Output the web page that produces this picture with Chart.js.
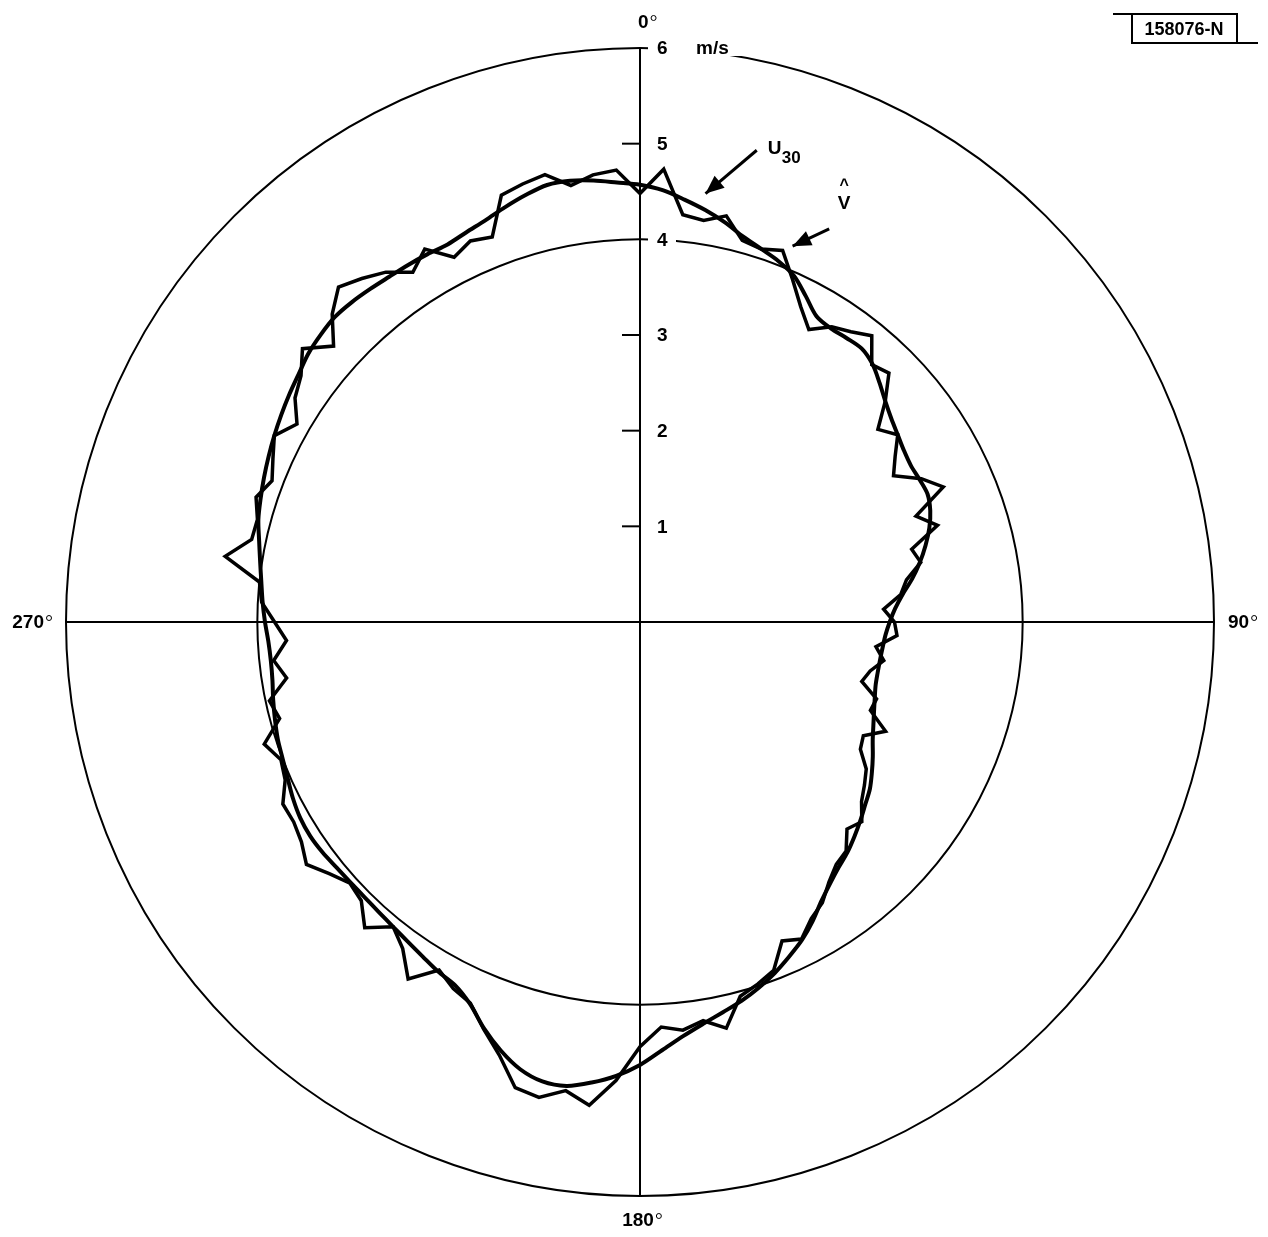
<!DOCTYPE html>
<html>
<head>
<meta charset="utf-8">
<title>U30 and V polar plot</title>
<script src="https://cdn.jsdelivr.net/npm/chart.js@4.4.1/dist/chart.umd.min.js"></script>
<style>
  html, body { margin: 0; padding: 0; background: #fff; }
</style>
</head>
<body>
<canvas id="polarChart" width="1268" height="1237"></canvas>
<script>
// direction in degrees, clockwise from north, every 3 degrees
const angles = Array.from({ length: 120 }, (_, i) => i * 3);

// speeds in m/s
const u30 = [
  4.57, 4.52, 4.44, 4.36, 4.27, 4.17, 4.10, 4.04, 3.96, 3.82,
  3.69, 3.66, 3.67, 3.68, 3.63, 3.54, 3.45, 3.38, 3.33, 3.29,
  3.27, 3.28, 3.29, 3.25, 3.18, 3.09, 2.99, 2.88, 2.76, 2.67,
  2.61, 2.57, 2.55, 2.54, 2.54, 2.55, 2.58, 2.62, 2.67, 2.73,
  2.81, 2.89, 2.97, 3.03, 3.10, 3.17, 3.24, 3.30, 3.38, 3.48,
  3.61, 3.73, 3.83, 3.93, 4.02, 4.10, 4.17, 4.25, 4.35, 4.48,
  4.63, 4.75, 4.84, 4.91, 4.91, 4.84, 4.71, 4.55, 4.37, 4.26,
  4.22, 4.17, 4.13, 4.10, 4.08, 4.07, 4.07, 4.08, 4.10, 4.11,
  4.10, 4.07, 4.03, 4.00, 3.98, 3.95, 3.92, 3.89, 3.88, 3.89,
  3.92, 3.95, 3.98, 4.02, 4.07, 4.13, 4.17, 4.21, 4.25, 4.29,
  4.33, 4.37, 4.41, 4.46, 4.49, 4.51, 4.50, 4.48, 4.46, 4.45,
  4.44, 4.43, 4.46, 4.50, 4.56, 4.62, 4.67, 4.67, 4.64, 4.60
];

const vHat = [
  4.48, 4.74, 4.28, 4.25, 4.34, 4.13, 4.10, 4.16, 3.92, 3.70,
  3.53, 3.68, 3.75, 3.85, 3.62, 3.68, 3.45, 3.20, 3.33, 3.18,
  3.06, 3.30, 3.47, 3.09, 3.27, 2.94, 3.00, 2.82, 2.74, 2.55,
  2.66, 2.69, 2.48, 2.58, 2.46, 2.40, 2.60, 2.58, 2.81, 2.62,
  2.66, 2.82, 2.90, 2.98, 3.12, 3.06, 3.22, 3.26, 3.36, 3.50,
  3.58, 3.72, 3.65, 3.90, 3.98, 4.05, 4.34, 4.22, 4.29, 4.24,
  4.44, 4.80, 5.08, 4.96, 5.08, 5.04, 4.76, 4.56, 4.36, 4.30,
  4.20, 4.45, 4.22, 4.10, 4.30, 4.12, 4.08, 4.18, 4.31, 4.22,
  4.18, 4.19, 4.06, 4.02, 4.13, 3.90, 3.96, 3.74, 3.85, 3.70,
  3.82, 3.96, 4.00, 4.39, 4.15, 4.14, 4.22, 4.12, 4.20, 4.29,
  4.14, 4.30, 4.38, 4.54, 4.31, 4.55, 4.71, 4.62, 4.52, 4.36,
  4.50, 4.28, 4.36, 4.31, 4.69, 4.74, 4.78, 4.62, 4.70, 4.73
];

const tickValues = [1, 2, 3, 4, 5, 6];
const tickLabels = ['1', '2', '3', '4', '5', '6'];
const cardinalAngles = [0, 90, 180, 270];
const cardinalLabels = ['0', '90', '180', '270'];

const FONT = 'bold 19px "Liberation Sans", Arial, sans-serif';

// axis numbers, compass labels, arrows and the figure number
const annotate = {
  id: 'annotate',
  afterDraw(chart) {
    const ctx = chart.ctx;
    const r = chart.scales.r;
    const cx = r.xCenter, cy = r.yCenter;
    const pt = (deg, v) => {
      const d = r.getDistanceFromCenterForValue(v);
      const a = deg * Math.PI / 180;
      return { x: cx + d * Math.sin(a), y: cy - d * Math.cos(a) };
    };
    ctx.save();
    ctx.fillStyle = '#000';
    ctx.strokeStyle = '#000';

    // ticks on the north axis
    ctx.font = FONT;
    ctx.textBaseline = 'middle';
    ctx.textAlign = 'left';
    tickValues.forEach((v, i) => {
      const y = cy - r.getDistanceFromCenterForValue(v);
      if (v === 4 || v === 6) {
        ctx.fillStyle = '#fff';
        const w = v === 6 ? 104 : 28;
        ctx.fillRect(cx + 8, y - 8, w, 16);
        ctx.fillStyle = '#000';
      } else {
        ctx.lineWidth = 2;
        ctx.beginPath();
        ctx.moveTo(cx - 18, y);
        ctx.lineTo(cx, y);
        ctx.stroke();
      }
      ctx.fillText(tickLabels[i], cx + 17, y + 1);
      if (v === 6) ctx.fillText('m/s', cx + 56, y + 1);
    });

    // compass labels with a small degree ring
    const outer = r.drawingArea;
    cardinalAngles.forEach((deg, i) => {
      const txt = cardinalLabels[i];
      ctx.font = FONT;
      const w = ctx.measureText(txt).width;
      let x, y;
      if (deg === 0) { x = cx - 2; y = cy - outer - 25; }
      else if (deg === 90) { x = cx + outer + 14; y = cy + 1; }
      else if (deg === 180) { x = cx - w / 2 - 2; y = cy + outer + 25; }
      else { x = cx - outer - w - 22; y = cy + 1; }
      ctx.textAlign = 'left';
      ctx.fillText(txt, x, y);
      ctx.lineWidth = 1;
      ctx.beginPath();
      ctx.arc(x + w + 5, y - 5, 2.5, 0, Math.PI * 2);
      ctx.stroke();
    });

    // arrows
    const arrow = (from, to) => {
      ctx.lineWidth = 3;
      ctx.beginPath();
      ctx.moveTo(from.x, from.y);
      ctx.lineTo(to.x, to.y);
      ctx.stroke();
      const a = Math.atan2(to.y - from.y, to.x - from.x);
      const L = 20, s = 0.4;
      ctx.beginPath();
      ctx.moveTo(to.x, to.y);
      ctx.lineTo(to.x - L * Math.cos(a - s), to.y - L * Math.sin(a - s));
      ctx.lineTo(to.x - L * Math.cos(a + s), to.y - L * Math.sin(a + s));
      ctx.closePath();
      ctx.fill();
    };
    const uTail = pt(13.9, 5.08), uTip = pt(8.7, 4.53);
    arrow(uTail, uTip);
    ctx.font = FONT;
    ctx.textBaseline = 'alphabetic';
    ctx.fillText('U', uTail.x + 11, uTail.y + 4);
    ctx.font = 'bold 17px "Liberation Sans", Arial, sans-serif';
    ctx.fillText('30', uTail.x + 25, uTail.y + 13);

    const vTail = pt(25.7, 4.56), vTip = pt(22.1, 4.24);
    arrow(vTail, vTip);
    ctx.font = FONT;
    ctx.textAlign = 'center';
    ctx.fillText('V', vTail.x + 15, vTail.y - 20);
    ctx.font = 'bold 16px "Liberation Sans", Arial, sans-serif';
    ctx.fillText('^', vTail.x + 15, vTail.y - 39);

    // figure number box
    ctx.lineWidth = 2;
    ctx.beginPath();
    ctx.moveTo(1113, 14); ctx.lineTo(1238, 14);
    ctx.moveTo(1132, 14); ctx.lineTo(1132, 43);
    ctx.lineTo(1258, 43);
    ctx.moveTo(1237, 14); ctx.lineTo(1237, 43);
    ctx.stroke();
    ctx.font = 'bold 18px "Liberation Sans", Arial, sans-serif';
    ctx.textAlign = 'center';
    ctx.textBaseline = 'middle';
    ctx.fillText('158076-N', 1184, 30);
    ctx.restore();
  }
};

const chart = new Chart(document.getElementById('polarChart'), {
  type: 'radar',
  data: {
    labels: angles.map(a => a + '°'),
    datasets: [
      {
        label: 'U30',
        data: u30,
        borderColor: '#000',
        borderWidth: 4,
        tension: 0.3,
        pointRadius: 0,
        fill: false
      },
      {
        label: 'V',
        data: vHat,
        borderColor: '#000',
        borderWidth: 3.5,
        tension: 0,
        pointRadius: 0,
        fill: false
      }
    ]
  },
  options: {
    responsive: false,
    animation: false,
    layout: { padding: { left: 22, right: 10, top: 48, bottom: 41 } },
    plugins: {
      legend: { display: false },
      tooltip: { enabled: false }
    },
    scales: {
      r: {
        min: 0,
        max: 6,
        startAngle: 0,
        ticks: { display: false, stepSize: 1 },
        pointLabels: { display: false },
        grid: {
          circular: true,
          color: '#000',
          lineWidth: ctx => (ctx.tick && (ctx.tick.value === 4 || ctx.tick.value === 6)) ? 2 : 0
        },
        angleLines: {
          color: '#000',
          lineWidth: ctx => (ctx.index % 30 === 0 ? 2 : 0)
        }
      }
    }
  },
  plugins: [annotate]
});
</script>
</body>
</html>
